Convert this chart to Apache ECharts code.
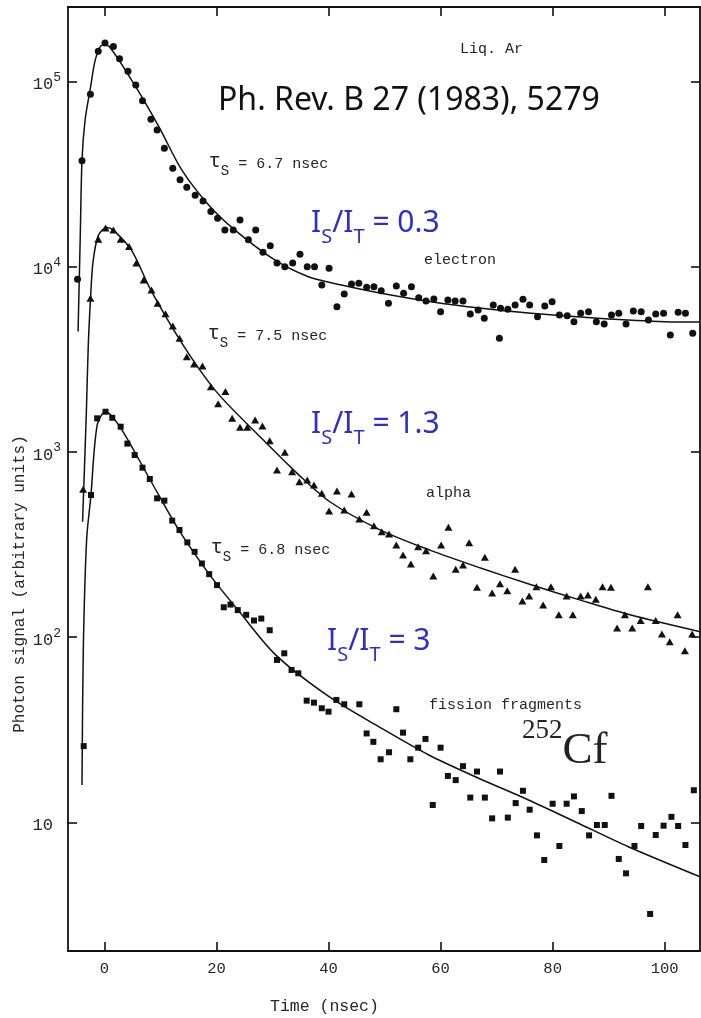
<!DOCTYPE html>
<html>
<head>
<meta charset="utf-8">
<title>Liq. Ar scintillation decay</title>
<script src="https://cdn.jsdelivr.net/npm/echarts@6/dist/echarts.min.js"></script>
<style>
  html, body { margin: 0; padding: 0; background: #ffffff; }
  #chart { width: 701px; height: 1018px; }
</style>
</head>
<body>
<div id="chart"></div>
<script>
// ---- axes -------------------------------------------------------------
const timeTicks = [0, 20, 40, 60, 80, 100];          // nsec
const timeRange = [-6.5, 106.3];                      // nsec
const signalRange = [2.018, 253200];                  // arbitrary units (log)

// ---- electron excitation: measured points [t (nsec), photon signal] -----
const electronPoints = [
  [-4.8, 8570], [-4.0, 37400], [-2.5, 85500], [-1.1, 146000], [0.1, 162000],
  [1.6, 155000], [2.7, 133000], [4.2, 114000], [5.6, 96000], [6.8, 78900],
  [8.3, 62700], [9.4, 54800], [10.7, 43700], [12.2, 34100], [13.5, 29500],
  [14.7, 26900], [16.2, 24400], [17.6, 22700], [19.0, 19900], [20.2, 18300],
  [21.5, 15800], [23.0, 15800], [24.2, 17900], [25.7, 14000], [27.0, 15800],
  [28.3, 12000], [29.6, 13000], [30.8, 10500], [32.2, 10000], [33.6, 10500],
  [34.9, 11700], [36.2, 10000], [37.5, 10000], [38.8, 7980], [40.1, 9820],
  [41.5, 6090], [42.8, 7140], [44.1, 8080], [45.4, 8150], [46.8, 7760],
  [48.1, 7820], [49.4, 7440], [50.7, 6360], [52.1, 7880], [53.4, 7200],
  [54.8, 7820], [56.1, 6820], [57.4, 6540], [58.8, 6710], [60.0, 5730],
  [61.3, 6620], [62.6, 6540], [64.0, 6540], [65.3, 5560], [66.7, 5850],
  [67.8, 5280], [69.4, 6220], [70.5, 4110], [70.7, 5970], [72.0, 5900],
  [73.3, 6220], [74.7, 6680], [75.9, 6220], [77.3, 5380], [78.6, 6150],
  [79.9, 6480], [81.2, 5500], [82.6, 5450], [83.8, 5060], [85.0, 5610],
  [86.4, 5730], [87.8, 5060], [89.2, 4910], [90.5, 5500], [91.8, 5610],
  [93.1, 4910], [94.4, 5770], [95.8, 5730], [97.1, 5160], [98.4, 5560],
  [99.8, 5610], [101.0, 4290], [102.4, 5680], [103.7, 5610], [105.0, 4380]
];
const electronFit = [
  [-4.7, 4470], [-4.3, 15200], [-4.0, 37800], [-3.45, 62100], [-2.5, 92500],
  [-1.55, 134000], [-0.34, 158000], [0.86, 155000], [5.57, 94000], [9.71, 57200],
  [13.8, 33400], [18.6, 21600], [23.3, 15800], [30.4, 10900], [36.4, 8850],
  [42.3, 7980], [49.4, 7200], [58.3, 6480], [67.3, 5970], [76.2, 5610],
  [88.1, 5280], [100.0, 5060], [106.3, 5040]
];

// ---- alpha excitation -------------------------------------------------------
const alphaPoints = [
  [-3.8, 629], [-2.5, 6760], [-1.1, 14100], [0.2, 16200], [1.6, 15800],
  [2.9, 14100], [4.4, 12900], [5.7, 10500], [7.0, 8490], [8.4, 7500],
  [9.5, 6360], [10.9, 5580], [12.2, 4790], [13.4, 4110], [14.7, 3270],
  [16.0, 2990], [17.5, 2910], [19.0, 2250], [20.3, 1820], [21.6, 2120],
  [22.8, 1520], [24.2, 1360], [25.5, 1360], [26.9, 1490], [28.2, 1380],
  [29.5, 1150], [30.8, 799], [32.2, 996], [33.5, 782], [34.8, 691],
  [36.2, 706], [37.4, 663], [38.8, 598], [40.1, 480], [41.5, 616],
  [42.8, 486], [44.1, 593], [45.5, 435], [46.8, 472], [48.1, 400],
  [49.5, 371], [50.8, 361], [52.1, 315], [53.3, 278], [54.7, 248],
  [56.0, 308], [57.4, 293], [58.7, 214], [60.1, 315], [61.4, 392],
  [62.7, 233], [64.0, 245], [65.1, 324], [66.5, 186], [67.9, 270],
  [69.2, 173], [70.6, 194], [71.9, 178], [73.3, 233], [74.6, 157],
  [75.8, 167], [77.1, 187], [78.3, 149], [79.7, 187], [81.1, 132],
  [82.5, 167], [83.6, 132], [85.0, 167], [86.3, 169], [87.7, 160],
  [88.9, 187], [90.4, 186], [91.5, 112], [92.9, 132], [94.2, 112],
  [95.7, 123], [97.0, 187], [98.4, 123], [99.5, 104], [100.9, 94.5],
  [102.3, 132], [103.6, 84.5], [104.9, 104]
];
const alphaFit = [
  [-3.9, 420], [-3.23, 1620], [-2.89, 3700], [-2.48, 6760], [-2.04, 10600],
  [-1.11, 14700], [0.38, 16300], [1.57, 15800], [4.82, 12300], [8.36, 7410],
  [14.25, 3700], [20.2, 2080], [28.5, 1150], [34.4, 767], [40.3, 537],
  [49.2, 380], [58.1, 295], [67.0, 237], [75.9, 193], [84.8, 159],
  [93.8, 132], [106.3, 107]
];

// ---- 252Cf fission fragments -----------------------------------------------
const fissionPoints = [
  [-3.7, 25.8], [-2.4, 586], [-1.3, 1520], [0.2, 1650], [1.4, 1530],
  [2.9, 1370], [4.1, 1110], [5.4, 963], [6.8, 823], [8.1, 715],
  [9.4, 562], [10.7, 546], [12.1, 426], [13.4, 379], [14.8, 325],
  [16.1, 289], [17.4, 250], [18.7, 219], [20.1, 191], [21.3, 145],
  [22.5, 150], [23.8, 140], [25.3, 132], [26.7, 123], [28.0, 126],
  [29.5, 109], [30.8, 75.3], [32.1, 81.8], [33.4, 66.5], [34.6, 63.8],
  [36.1, 45.4], [37.4, 44.3], [38.8, 41.3], [40.0, 39.6], [41.4, 45.8],
  [42.8, 43.4], [45.5, 43.4], [46.8, 30.2], [48.0, 27.2], [49.3, 21.9],
  [50.8, 23.9], [52.1, 40.8], [53.3, 30.5], [54.6, 21.9], [56.0, 25.3],
  [57.3, 28.2], [58.6, 12.4], [60.0, 25.3], [61.3, 17.8], [62.7, 16.9],
  [64.0, 20.1], [65.3, 13.6], [66.5, 18.8], [67.9, 13.6], [69.2, 10.5],
  [70.6, 18.8], [72.0, 10.6], [73.4, 12.7], [74.7, 14.8], [75.9, 11.7],
  [77.2, 8.5], [78.5, 6.26], [80.0, 12.6], [81.2, 7.45], [82.5, 12.6],
  [83.8, 13.8], [85.2, 11.5], [86.5, 8.5], [87.9, 9.67], [89.3, 9.67],
  [90.5, 13.9], [91.8, 6.34], [93.1, 5.3], [94.6, 7.45], [95.8, 9.55],
  [97.4, 3.2], [98.4, 8.54], [99.8, 9.59], [101.2, 10.7], [102.4, 9.55],
  [103.7, 7.54], [105.2, 14.9]
];
const fissionFit = [
  [-4.0, 15.9], [-3.77, 85.2], [-3.18, 335], [-2.43, 574], [-1.29, 1400],
  [0.2, 1650], [2.88, 1350], [8.18, 706], [13.5, 370], [18.8, 217],
  [24.1, 137], [30.6, 80], [40.1, 47.7], [49.0, 32.8], [57.9, 23.1],
  [66.8, 17.3], [75.7, 13.2], [84.6, 9.88], [93.5, 7.38], [106.3, 5.08]
];

// ---- styling ----------------------------------------------------------------
const INK = '#111111';
const TEXT = '#262626';
const BLUE = '#2e2ec8';
const MONO = '"Liberation Mono", "DejaVu Sans Mono", monospace';
const SANS = '"Noto Sans", "Open Sans", sans-serif';
const SERIF = '"Liberation Serif", "DejaVu Serif", serif';

const axisLine = { show: true, onZero: false, lineStyle: { color: INK, width: 1.8 } };
const tickStyle = { color: INK, width: 1.6 };

function powerLabel(v) {
  const lg = Math.log10(v);
  const e = Math.round(lg);
  if (Math.abs(lg - e) > 1e-6) return '';
  if (e === 1) return '{p|10}';
  return '{b|10}{sup|' + e + '}';
}

function scatter(name, data, symbol, size) {
  return {
    name, type: 'scatter', data, symbol, symbolSize: size,
    itemStyle: { color: INK, opacity: 1 }, z: 4, silent: true
  };
}
function fit(name, data) {
  return {
    name, type: 'line', data, showSymbol: false, smooth: 0.3,
    lineStyle: { color: INK, width: 1.5 }, z: 3, silent: true
  };
}

// rich-text pieces for the annotations
const tauRich = {
  t: { fontFamily: SANS, fontSize: 20, fill: TEXT, padding: [0, 1, 6, 0] },
  s: { fontFamily: MONO, fontSize: 14, fill: TEXT, padding: [15, 0, 0, 0] },
  m: { fontFamily: MONO, fontSize: 15, fill: TEXT }
};
const ratioRich = {
  m: { fontFamily: SANS, fontSize: 30, fill: BLUE },
  s: { fontFamily: SANS, fontSize: 20, fill: BLUE, padding: [28, 0, 0, 0] }
};

function monoText(text, x, y, size) {
  return {
    type: 'text', x, y, silent: true,
    style: { text, fontFamily: MONO, fontSize: size || 15, fill: TEXT, align: 'left', verticalAlign: 'middle' }
  };
}
function tauText(value, x, y) {
  return {
    type: 'text', x, y, silent: true,
    style: { text: '{t|τ}{s|S}{m| = ' + value + ' nsec}', rich: tauRich, align: 'left', verticalAlign: 'middle' }
  };
}
function ratioText(value, x, y) {
  return {
    type: 'text', x, y, silent: true,
    style: { text: '{m|I}{s|S}{m|/I}{s|T}{m| = ' + value + '}', rich: ratioRich, align: 'left', verticalAlign: 'middle' }
  };
}

const chart = echarts.init(document.getElementById('chart'), null, { renderer: 'canvas' });

chart.setOption({
  animation: false,
  backgroundColor: '#ffffff',
  grid: { left: 68, right: 1, top: 7, bottom: 67, containLabel: false, outerBoundsMode: 'none' },
  xAxis: [
    {
      type: 'value', position: 'bottom', min: timeRange[0], max: timeRange[1],
      axisLine,
      axisTick: { show: true, inside: true, length: 9, lineStyle: tickStyle, customValues: timeTicks },
      axisLabel: {
        show: true, customValues: timeTicks, margin: 10,
        fontFamily: MONO, fontSize: 15.5, color: TEXT
      },
      splitLine: { show: false }
    },
    {
      type: 'value', position: 'top', min: timeRange[0], max: timeRange[1],
      axisLine,
      axisTick: { show: true, inside: true, length: 9, lineStyle: tickStyle, customValues: timeTicks },
      axisLabel: { show: false, customValues: timeTicks },
      splitLine: { show: false }
    }
  ],
  yAxis: [
    {
      type: 'log', logBase: 10, position: 'left', min: signalRange[0], max: signalRange[1],
      axisLine,
      axisTick: { show: true, inside: true, length: 9, lineStyle: tickStyle },
      minorTick: { show: false },
      axisLabel: {
        show: true, margin: 7, formatter: powerLabel,
        rich: {
          b: { fontFamily: MONO, fontSize: 17, color: TEXT, padding: [6, 0, 0, 0] },
          sup: { fontFamily: MONO, fontSize: 13, color: TEXT, padding: [0, 0, 8, 0] },
          p: { fontFamily: MONO, fontSize: 17, color: TEXT, padding: [6, 8, 0, 0] }
        }
      },
      splitLine: { show: false }
    },
    {
      type: 'log', logBase: 10, position: 'right', min: signalRange[0], max: signalRange[1],
      axisLine,
      axisTick: { show: true, inside: true, length: 9, lineStyle: tickStyle },
      axisLabel: { show: false },
      splitLine: { show: false }
    }
  ],
  series: [
    fit('electron fit', electronFit),
    fit('alpha fit', alphaFit),
    fit('fission fit', fissionFit),
    scatter('electron', electronPoints, 'circle', 7),
    scatter('alpha', alphaPoints, 'triangle', [8, 7]),
    scatter('fission fragments', fissionPoints, 'rect', 6)
  ],
  graphic: [
    monoText('Liq. Ar', 460, 49),
    {
      type: 'text', x: 218, y: 100.5, silent: true,
      style: { text: 'Ph. Rev. B 27 (1983), 5279', fontFamily: SANS, fontSize: 32, fill: '#111111', align: 'left', verticalAlign: 'middle' }
    },
    tauText('6.7', 210, 164),
    tauText('7.5', 209, 336),
    tauText('6.8', 212, 550),
    ratioText('0.3', 311, 223.5),
    ratioText('1.3', 311, 424.5),
    ratioText('3', 327, 641),
    monoText('electron', 424, 260.5),
    monoText('alpha', 426, 493.5),
    monoText('fission fragments', 429, 705.5),
    {
      type: 'text', x: 522, y: 751.5, silent: true,
      style: {
        text: '{sup|252}{b|Cf}', align: 'left', verticalAlign: 'middle',
        rich: {
          sup: { fontFamily: SERIF, fontSize: 27, fill: '#222222', padding: [0, 0, 42, 0] },
          b: { fontFamily: SERIF, fontSize: 45, fill: '#222222' }
        }
      }
    },
    monoText('Time (nsec)', 270, 1006.5, 16.5),
    {
      type: 'text', x: 20, y: 584, rotation: Math.PI / 2, silent: true,
      style: {
        text: 'Photon signal (arbitrary units)', fontFamily: MONO, fontSize: 16, fill: TEXT,
        align: 'center', verticalAlign: 'middle'
      }
    }
  ]
});
</script>
</body>
</html>
